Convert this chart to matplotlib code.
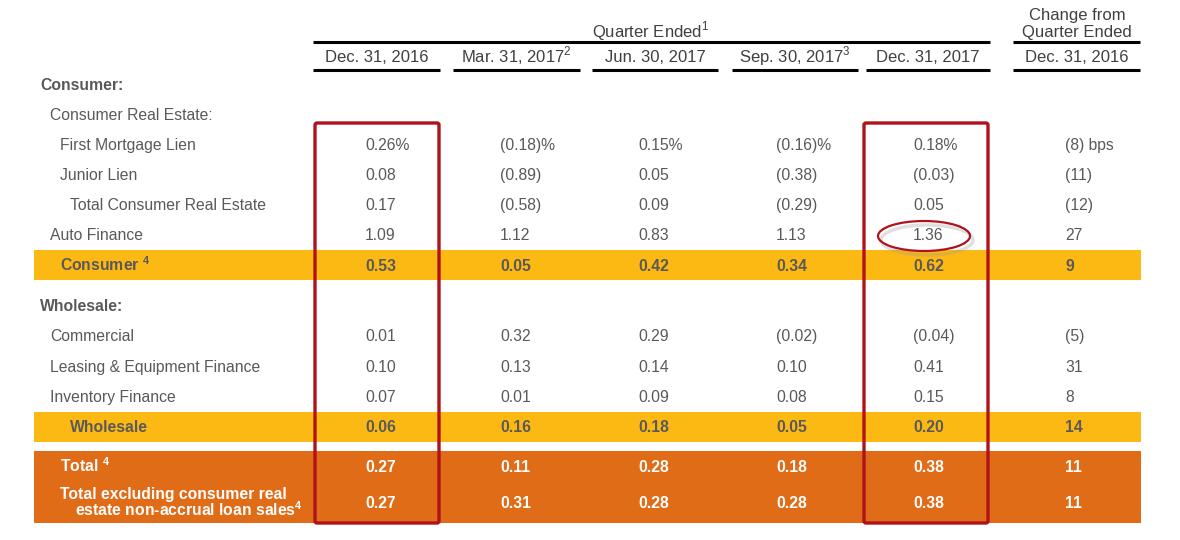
import matplotlib
matplotlib.use("Agg")
import matplotlib.pyplot as plt
from matplotlib.patches import Rectangle, FancyBboxPatch, Ellipse

plt.rcParams['font.family'] = ['Liberation Sans', 'DejaVu Sans']
plt.rcParams['mathtext.fontset'] = 'custom'
plt.rcParams['mathtext.rm'] = 'Liberation Sans'
plt.rcParams['mathtext.bf'] = 'Liberation Sans:bold'

# data
col_headers = ["Dec. 31, 2016", "Mar. 31, 2017$^{2}$", "Jun. 30, 2017",
               "Sep. 30, 2017$^{3}$", "Dec. 31, 2017"]
change_header = "Dec. 31, 2016"
row_labels = ["First Mortgage Lien", "Junior Lien", "Total Consumer Real Estate",
              "Auto Finance", "Consumer $^{\\mathbf{4}}$", "Commercial",
              "Leasing & Equipment Finance", "Inventory Finance", "Wholesale",
              "Total $^{\\mathbf{4}}$", "Total excluding consumer real"]
last_label_line2 = "estate non-accrual loan sales$^{\\mathbf{4}}$"
dec16 = [0.26, 0.08, 0.17, 1.09, 0.53, 0.01, 0.10, 0.07, 0.06, 0.27, 0.27]
mar17 = [-0.18, -0.89, -0.58, 1.12, 0.05, 0.32, 0.13, 0.01, 0.16, 0.11, 0.31]
jun17 = [0.15, 0.05, 0.09, 0.83, 0.42, 0.29, 0.14, 0.09, 0.18, 0.28, 0.28]
sep17 = [-0.16, -0.38, -0.29, 1.13, 0.34, -0.02, 0.10, 0.08, 0.05, 0.18, 0.28]
dec17 = [0.18, -0.03, 0.05, 1.36, 0.62, -0.04, 0.41, 0.15, 0.20, 0.38, 0.38]
change_bps = [-8, -11, -12, 27, 9, -5, 31, 8, 14, 11, 11]

# layout
row_y = [144, 174, 204, 234, 265, 335, 366, 396, 426, 466, 502]
row_x = [60, 60, 70, 50, 60, 50, 50, 50, 70, 60, 60]
row_style = ['n', 'n', 'n', 'n', 'y', 'n', 'n', 'n', 'y', 'o', 'o']
col_x = [365, 500, 638, 776, 913]
col_lines = [(313, 440), (453, 580), (592, 718), (732, 858), (866, 990)]
chg_x = 1065
chg_line = (1013, 1140)

GRAY = '#595959'
HEAD = '#404040'
YELLOW = '#FDB913'
ORANGE = '#E06C17'
RED = '#B0121B'
FS = 11.3
HFS = 12


def fmt(v, pct=False):
    s = f"{abs(v):.2f}"
    s = f"({s})" if v < 0 else s
    return s + "%" if pct else s


def fmt_bps(v, unit=False):
    s = f"({abs(v)})" if v < 0 else f"{v}"
    return s + " bps" if unit else s


def put(x, y, s, size=FS, **kw):
    # y is the visual centre of the caps; draw on the baseline below it
    ax.text(x, y + size * 0.5, s, va='baseline', fontsize=size, **kw)


fig = plt.figure(figsize=(11.8, 5.4), dpi=100)
ax = fig.add_axes([0, 0, 1, 1])
ax.set_xlim(0, 1180)
ax.set_ylim(540, 0)
ax.axis('off')

# colour bands
ax.add_patch(Rectangle((34, 250), 1107, 30, color=YELLOW, lw=0))
ax.add_patch(Rectangle((34, 412), 1107, 30, color=YELLOW, lw=0))
ax.add_patch(Rectangle((34, 451), 1107, 72, color=ORANGE, lw=0))

# header
put(651, 31, "Quarter Ended$^{1}$", HFS, ha='center', color=HEAD)
put(1077, 14, "Change from", HFS, ha='center', color=HEAD)
put(1077, 31, "Quarter Ended", HFS, ha='center', color=HEAD)
ax.plot([313, 990], [42, 42], color='black', lw=2.2, solid_capstyle='butt')
ax.plot(chg_line, [42, 42], color='black', lw=2.2, solid_capstyle='butt')
for (x0, x1), h in zip(col_lines, col_headers):
    put((x0 + x1) / 2, 56, h, HFS, ha='center', color=HEAD)
    ax.plot([x0, x1], [70, 70], color='black', lw=2.2, solid_capstyle='butt')
put(sum(chg_line) / 2, 56, change_header, HFS, ha='center', color=HEAD)
ax.plot(chg_line, [70, 70], color='black', lw=2.2, solid_capstyle='butt')

# section labels
put(40, 84, "Consumer:", color=GRAY, fontweight='bold')
put(50, 114, "Consumer Real Estate:", color=GRAY)
put(40, 305, "Wholesale:", color=GRAY, fontweight='bold')

# rows
cols = [dec16, mar17, jun17, sep17, dec17]
for i, label in enumerate(row_labels):
    st = row_style[i]
    color = 'white' if st == 'o' else GRAY
    weight = 'normal' if st == 'n' else 'bold'
    if i == len(row_labels) - 1:
        put(row_x[i], 493, label, color=color, fontweight=weight)
        put(row_x[i] + 15, 510.5, last_label_line2, color=color, fontweight=weight)
    else:
        put(row_x[i], row_y[i], label, color=color, fontweight=weight)
    for x, series in zip(col_x, cols):
        put(x, row_y[i], fmt(series[i], pct=(i == 0)), color=color, fontweight=weight)
    put(chg_x, row_y[i], fmt_bps(change_bps[i], unit=(i == 0)), color=color, fontweight=weight)

# highlight boxes
for x0 in (315, 864):
    ax.add_patch(FancyBboxPatch((x0, 123), 124, 400, boxstyle="round,pad=0,rounding_size=2",
                                fill=False, ec=RED, lw=2.4))

# ellipse around 1.36
ax.add_patch(Ellipse((927, 240), 92, 30, fill=False, ec='#9a9a9a', lw=2.5, alpha=0.3))
ax.add_patch(Ellipse((924, 236), 92, 30, fill=False, ec=RED, lw=1.6))

fig.savefig("out.png", dpi=100)
